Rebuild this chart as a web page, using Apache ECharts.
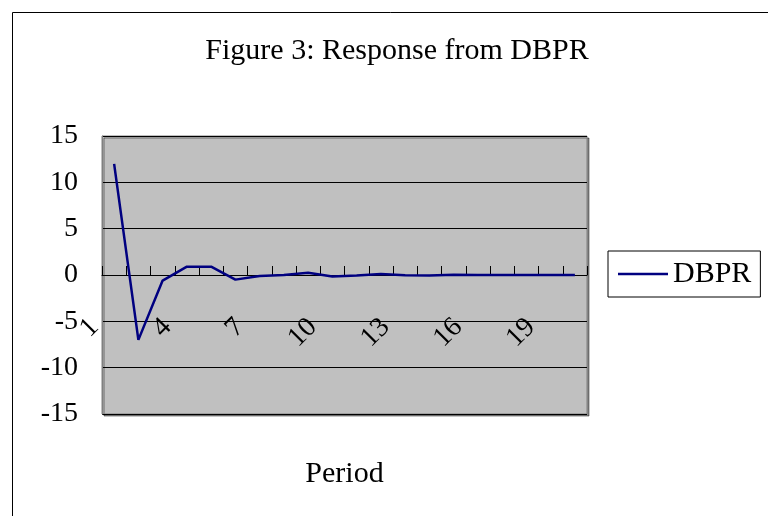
<!DOCTYPE html>
<html>
<head>
<meta charset="utf-8">
<script src="https://cdn.jsdelivr.net/npm/echarts@6/dist/echarts.min.js"></script>
<style>
html,body{margin:0;padding:0;background:#fff;}
#chart{width:768px;height:516px;}
</style>
</head>
<body>
<div id="chart"></div>
<script>
const titleText = 'Figure 3: Response from DBPR';
const seriesName = 'DBPR';
const xAxisName = 'Period';
const periods = ['1','2','3','4','5','6','7','8','9','10','11','12','13','14','15','16','17','18','19','20'];
const dbpr = [12.0, -7.0, -0.6, 0.9, 0.9, -0.5, -0.1, 0.0, 0.25, -0.15, -0.05, 0.1, -0.02, -0.05, 0.02, 0.0, 0.0, 0.0, 0.0, 0.0];
const yMin = -15, yMax = 15, yStep = 5;

const FONT = 'Liberation Serif';
const chart = echarts.init(document.getElementById('chart'), null, {renderer: 'canvas'});
chart.setOption({
  animation: false,
  backgroundColor: '#ffffff',
  graphic: [{
    type: 'rect', left: 10, top: 10, silent: true, z: -10,
    shape: {x: 0, y: 0, width: 800, height: 600},
    style: {fill: 'none', stroke: '#000', lineWidth: 1}
  }],
  title: {
    text: titleText,
    left: 392, top: 31, textAlign: 'center',
    textStyle: {fontFamily: FONT, fontSize: 30, fontWeight: 'normal', color: '#000'}
  },
  legend: {
    left: 608, top: 251,
    orient: 'vertical',
    padding: [8, 9, 8, 10],
    borderColor: '#000', borderWidth: 1, backgroundColor: '#fff',
    itemWidth: 50, itemHeight: 14,
    textStyle: {fontFamily: FONT, fontSize: 30, color: '#000', lineHeight: 30},
    data: [{name: seriesName, icon: 'path://M0,0L50,0L50,2.5L0,2.5Z'}]
  },
  grid: {
    left: 102, top: 136, right: 181, bottom: 102,
    containLabel: false,
    outerBoundsMode: 'none',
    show: true, backgroundColor: '#C0C0C0',
    borderColor: '#808080', borderWidth: 1,
    shadowColor: 'rgba(0,0,0,0.45)', shadowOffsetX: 2, shadowOffsetY: 2, shadowBlur: 0
  },
  xAxis: {
    type: 'category',
    data: periods,
    boundaryGap: true,
    name: xAxisName,
    nameLocation: 'middle',
    nameGap: 45,
    nameTextStyle: {fontFamily: FONT, fontSize: 30, color: '#000'},
    axisLine: {onZero: true, lineStyle: {color: '#000', width: 1}},
    axisTick: {show: true, inside: true, length: 9, interval: 0, lineStyle: {color: '#000'}},
    axisLabel: {
      interval: 2, rotate: 45, margin: -111,
      padding: [0, 28, 0, 0],
      fontFamily: FONT, fontSize: 28, color: '#000'
    },
    splitLine: {show: false}
  },
  yAxis: {
    type: 'value',
    min: yMin, max: yMax, interval: yStep,
    axisLine: {show: true, lineStyle: {color: '#808080'}},
    axisTick: {show: false},
    axisLabel: {margin: 24, fontFamily: FONT, fontSize: 28, color: '#000', hideOverlap: false},
    splitLine: {show: true, lineStyle: {color: '#000', width: 1}}
  },
  series: [{
    name: seriesName,
    type: 'line',
    data: dbpr,
    symbol: 'none',
    showSymbol: false,
    lineStyle: {color: '#000080', width: 2.5},
    itemStyle: {color: '#000080'}
  }]
});
</script>
</body>
</html>
